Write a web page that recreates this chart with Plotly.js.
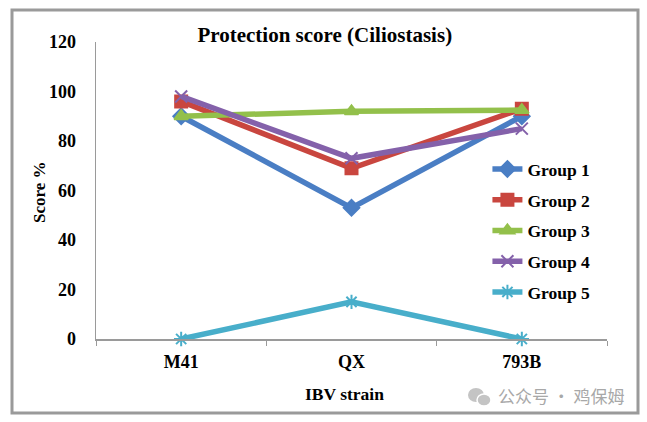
<!DOCTYPE html>
<html>
<head>
<meta charset="utf-8">
<script src="https://cdn.plot.ly/plotly-3.0.1.min.js"></script>
<style>
  html, body { margin: 0; padding: 0; background: #fff; }
  #chart { width: 647px; height: 422px; }
</style>
</head>
<body>
<div id="chart"></div>
<script>
    // --- DATA ---
    const strains = ['M41', 'QX', '793B'];
    const group1 = [90, 53, 90];
    const group2 = [96, 69, 93];
    const group3 = [90, 92, 92.5];
    const group4 = [98, 73, 85];
    const group5 = [0, 15, 0];
    const yTicks = [0, 20, 40, 60, 80, 100, 120];

    const serif = 'Liberation Serif, Times New Roman, serif';

    function series(name, values, color, symbol) {
        return {
            type: 'scatter',
            mode: 'lines+markers',
            name: name,
            legendgroup: name,
            x: strains,
            y: values,
            cliponaxis: false,
            line: { color: color, width: 5.5 },
            marker: { symbol: symbol, size: 12, color: color, line: { color: color, width: 2 } }
        };
    }

    const traces = [
        series('Group 1', group1, '#4A7EC4', 'diamond'),
        series('Group 2', group2, '#C9463F', 'square'),
        series('Group 3', group3, '#93C04B', 'triangle-up'),
        series('Group 4', group4, '#8461AA', 'x-thin-open'),
        series('Group 5', group5, '#48AECA', 'asterisk-open')
    ];

    // plot area: x 96..607, y 42..339 (px)
    const layout = {
        width: 647,
        height: 422,
        margin: { l: 96, r: 40, t: 42, b: 83 },
        paper_bgcolor: '#fff',
        plot_bgcolor: '#fff',
        font: { family: serif, size: 17, color: '#000' },
        title: {
            text: '<b>Protection score (Ciliostasis)</b>',
            font: { family: serif, size: 21, color: '#000' },
            x: 0.502, xref: 'container', xanchor: 'center',
            y: 0.917, yref: 'container', yanchor: 'middle'
        },
        xaxis: {
            type: 'category',
            range: [-0.5, 2.5],
            showline: true, linecolor: '#9a9a9a', linewidth: 1.5,
            showgrid: false, zeroline: false,
            ticks: 'outside', tickson: 'boundaries', ticklen: 5, tickcolor: '#9a9a9a',
            tickfont: { family: serif, size: 18, color: '#000', weight: 'bold' },
            ticklabelstandoff: 6,
            fixedrange: true
        },
        yaxis: {
            range: [0, 120],
            tickvals: yTicks,
            showline: true, linecolor: '#9a9a9a', linewidth: 1.5,
            showgrid: false, zeroline: false,
            ticks: '',
            tickfont: { family: serif, size: 18, color: '#000', weight: 'bold' },
            ticklabelstandoff: 15,
            fixedrange: true
        },
        showlegend: true,
        legend: {
            x: 0.766, xanchor: 'left',
            y: 0.365, yanchor: 'middle',
            bgcolor: 'rgba(0,0,0,0)',
            font: { family: serif, size: 17.5, color: '#000', weight: 'bold' },
            traceorder: 'grouped',
            tracegroupgap: 5,
            itemwidth: 30
        },
        annotations: [
            {
                text: '<b>Score %</b>', textangle: -90,
                xref: 'paper', yref: 'paper',
                x: (40 - 96) / 511, y: (339 - 192) / 297,
                xanchor: 'center', yanchor: 'middle', showarrow: false,
                font: { family: serif, size: 17, color: '#000' }
            },
            {
                text: '<b>IBV strain</b>',
                xref: 'paper', yref: 'paper',
                x: (344 - 96) / 511, y: (339 - 394) / 297,
                xanchor: 'center', yanchor: 'middle', showarrow: false,
                font: { family: serif, size: 17.5, color: '#000' }
            },
            {
                text: '公众号 · 鸡保姆',
                xref: 'paper', yref: 'paper',
                x: (496 - 96) / 511, y: (339 - 396) / 297,
                xanchor: 'left', yanchor: 'middle', showarrow: false,
                font: { family: 'Noto Sans CJK SC, sans-serif', size: 17, color: '#a8a8a8' }
            }
        ],
        shapes: [
            {
                type: 'rect', xref: 'paper', yref: 'paper',
                x0: (12 - 96) / 511, x1: (638 - 96) / 511,
                y0: (339 - 413) / 297, y1: (339 - 10) / 297,
                line: { color: '#9a9a9a', width: 3 }, fillcolor: 'rgba(0,0,0,0)'
            },
            {
                type: 'circle', xref: 'paper', yref: 'paper',
                x0: (468 - 96) / 511, x1: (484 - 96) / 511,
                y0: (339 - 402) / 297, y1: (339 - 388) / 297,
                line: { width: 0 }, fillcolor: '#c4c4c4'
            },
            {
                type: 'circle', xref: 'paper', yref: 'paper',
                x0: (477 - 96) / 511, x1: (491 - 96) / 511,
                y0: (339 - 406) / 297, y1: (339 - 394) / 297,
                line: { color: '#fff', width: 1.5 }, fillcolor: '#c4c4c4'
            }
        ]
    };

    Plotly.newPlot('chart', traces, layout, { displayModeBar: false, staticPlot: true });
</script>
</body>
</html>
